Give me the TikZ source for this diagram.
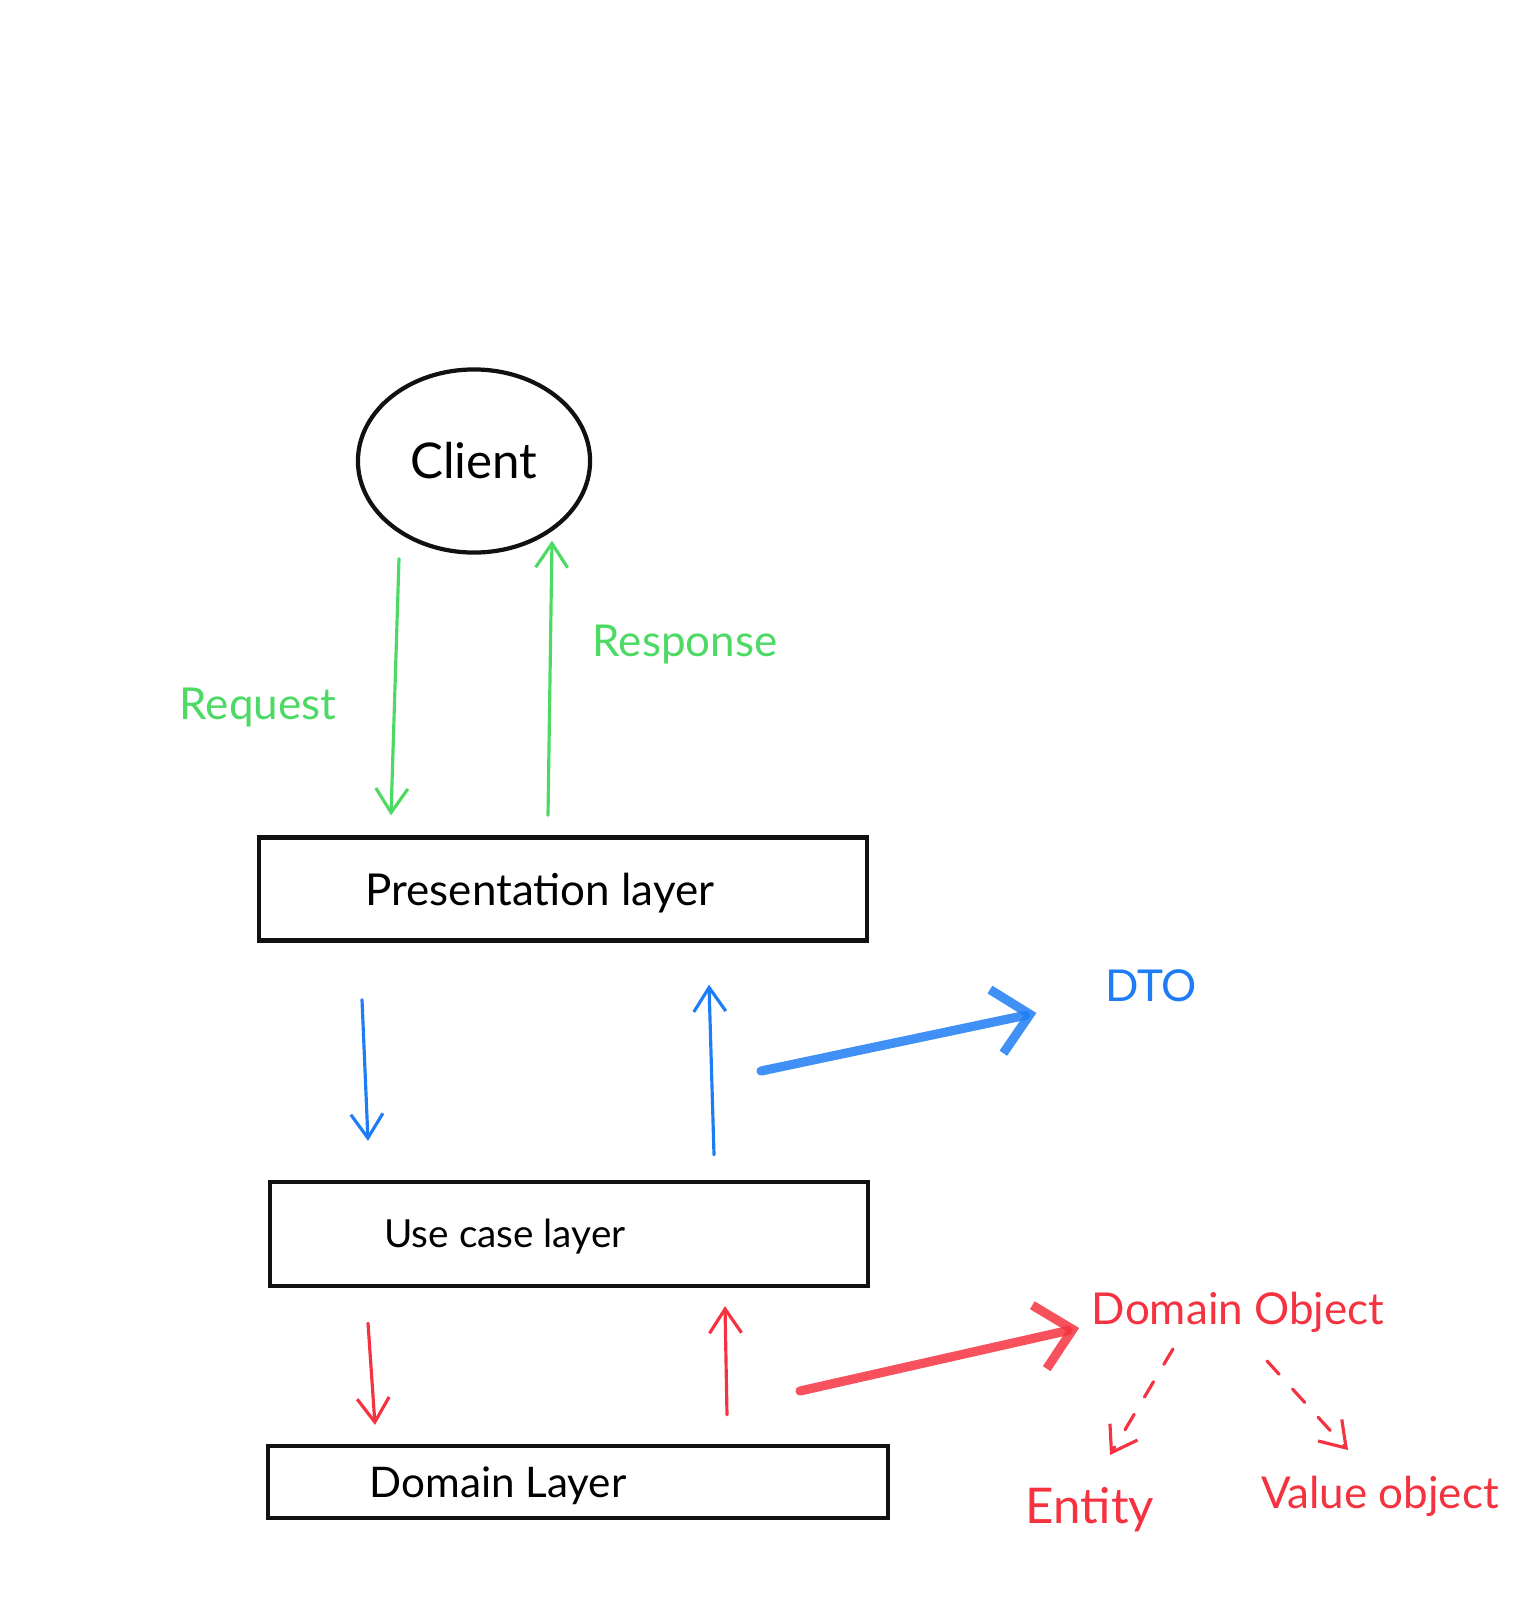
\documentclass[tikz,border=0pt]{standalone}
\usepackage{fontspec}
\setmainfont{Lato}
\usetikzlibrary{arrows.meta,calc,shapes.geometric}
\definecolor{ink}{HTML}{111111}
\definecolor{green}{HTML}{4CD964}
\definecolor{blue}{HTML}{1E7DF5}
\definecolor{red}{HTML}{F5323F}

\begin{document}
\begin{tikzpicture}[
    x=0.01cm, y=-0.01cm,
    font=\fontsize{12.5}{15}\selectfont,
    layer/.style={draw=ink, line width=1.2pt, rectangle, inner sep=0pt},
    label/.style={inner sep=2pt},
    flow/.style={-{Straight Barb[length=2.4mm, width=3.2mm]}, line width=0.9pt, line cap=round},
    bold/.style={-{Straight Barb[length=3.4mm, width=6.5mm]}, line width=2.6pt, line cap=round, draw opacity=0.85},
    split/.style={flow, dash pattern=on 1.8mm off 2mm}
]

% Page frame: 1536 x 1612 units, y runs downwards.
\useasboundingbox (0,0) rectangle (1536,1612);

% Client and the three layers.
\node[draw=ink, line width=1.2pt, ellipse, minimum width=2.32cm, minimum height=1.83cm,
    font=\fontsize{14}{17}\selectfont] (client) at (474,461) {Client};
\node[layer, minimum width=6.07cm, minimum height=1.03cm] (pres) at (563,889) {};
\node[layer, minimum width=5.98cm, minimum height=1.04cm] (usecase) at (569,1234) {};
\node[layer, minimum width=6.20cm, minimum height=0.72cm] (domain) at (578,1482) {};

\node[label] (prestext) at ($(pres.center)+(-23,4)$) {Presentation layer};
\node[label, font=\fontsize{11}{13}\selectfont] (usecasetext) at ($(usecase.center)+(-64,3)$) {Use case layer};
\node[label, font=\fontsize{12}{14}\selectfont] (domaintext) at ($(domain.center)+(-80,4)$) {Domain Layer};

% Side labels.
\node[label, text=green] (request) at (258,708) {Request};
\node[label, text=green] (response) at (685,645) {Response};
\node[label, text=blue] (dto) at (1151,986) {DTO};
\node[label, text=red] (domobj) at (1238,1312) {Domain Object};
\node[label, text=red, font=\fontsize{14}{16}\selectfont] (entity) at (1090,1510) {Entity};
\node[label, text=red] (valobj) at (1380,1496) {Value object};

% Request / response between client and presentation layer.
\draw[flow, green] ($(client.south)+(-75,4)$) -- ($(pres.north)+(-172,-20)$);
\draw[flow, green] ($(pres.north)+(-15,-20)$) -- ($(client.south)+(78,-14)$);

% Presentation <-> use case.
\draw[flow, blue] ($(pres.south)+(-201,57)$) -- ($(usecase.north)+(-201,-39)$);
\draw[flow, blue] ($(usecase.north)+(145,-25)$) -- ($(pres.south)+(146,42)$);

% Use case <-> domain.
\draw[flow, red] ($(usecase.south)+(-201,35)$) -- ($(domain.north)+(-203,-19)$);
\draw[flow, red] ($(domain.north)+(149,-29)$) -- ($(usecase.south)+(156,18)$);

% What crosses each boundary.
\coordinate (dtotail) at (761,1071);
\coordinate (objtail) at (800,1391);
\draw[bold, blue] (dtotail) -- ($(dto.west)+(-61,27)$);
\draw[bold, red] (objtail) -- ($(domobj.west)+(-5,16)$);

% Kinds of domain object.
\draw[split, red] ($(domobj.south)+(-65,9)$) -- ($(entity.north)+(20,-25)$);
\draw[split, red] ($(domobj.south)+(29,21)$) -- ($(valobj.north)+(-32,-18)$);

\end{tikzpicture}
\end{document}
